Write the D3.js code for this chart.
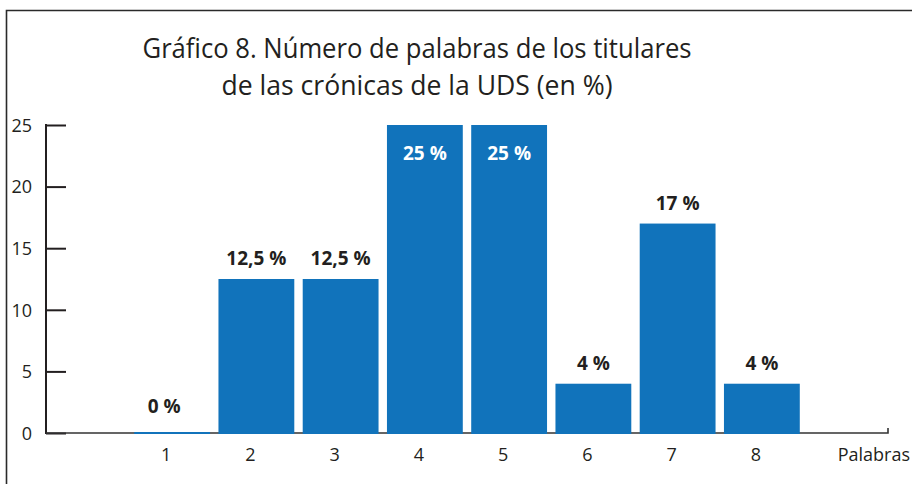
<!DOCTYPE html>
<html><head><meta charset="utf-8">
<script src="https://cdn.jsdelivr.net/npm/d3@7"></script>
<style>body{margin:0;background:#fff}svg{display:block}</style>
</head><body>
<script>
const categories = ["1","2","3","4","5","6","7","8"];
const values = [0, 12.5, 12.5, 25, 25, 4, 17, 4];
const valueLabels = ["0 %","12,5 %","12,5 %","25 %","25 %","4 %","17 %","4 %"];
const yTicks = [0, 5, 10, 15, 20, 25];
const titleLines = ["Gráfico 8. Número de palabras de los titulares", "de las crónicas de la UDS (en %)"];
const xAxisTitle = "Palabras";

const W = 912, H = 484;
const svg = d3.select("body").append("svg").attr("width", W).attr("height", H);
const ink = "#231f20", blue = "#1173bb";
const font = "'Open Sans', 'Noto Sans', sans-serif";

// frame
svg.append("path").attr("d", `M6.5,${H} V10.5 H${W}`).attr("fill","none").attr("stroke","#2a2a2a").attr("stroke-width",1.6);

// title
const titleW = [549, 391];
titleLines.forEach((t,i)=>{
  svg.append("text").attr("x", 417).attr("y", 58 + i*37).attr("text-anchor","middle")
    .attr("font-family", font).attr("font-size", 28).attr("fill", ink)
    .attr("textLength", titleW[i]).attr("lengthAdjust","spacingAndGlyphs").text(t);
});

const x = d3.scaleBand().domain(categories).range([130, 804]).paddingInner(0.1).paddingOuter(0.05);
const y = d3.scaleLinear().domain([0, 25]).range([433, 125]);

// y axis
const yAxis = svg.append("g").attr("transform","translate(46,0)")
  .call(d3.axisRight(y).tickValues(yTicks).tickSize(20).tickFormat(d3.format("d")));
yAxis.select(".domain").remove();
yAxis.selectAll(".tick line").attr("stroke", ink).attr("stroke-width", 2);
yAxis.selectAll(".tick text").attr("x", -14).attr("text-anchor","end").attr("dy","0.35em")
  .attr("font-family", font).attr("font-size", 18).attr("fill", ink);
svg.append("line").attr("x1",46).attr("x2",46).attr("y1",y(25)-1).attr("y2",y(0)+1).attr("stroke",ink).attr("stroke-width",2);

// x axis line
svg.append("path").attr("d", `M46,${y(0)} H888 V${y(0)-5}`).attr("fill","none").attr("stroke","#333").attr("stroke-width",1.6);

// bars
svg.selectAll("rect.bar").data(values).join("rect").attr("class","bar")
  .attr("x",(d,i)=>x(categories[i])).attr("width",x.bandwidth())
  .attr("y",d=>Math.min(y(d), y(0)-1)).attr("height",d=>Math.max(y(0)-y(d),1)+1)
  .attr("fill", blue);

// value labels
svg.selectAll("text.val").data(values).join("text").attr("class","val")
  .attr("x",(d,i)=>x(categories[i])+x.bandwidth()/2 - (i===0?8:0))
  .attr("y",d=> d>=20 ? y(d)+35 : y(d)-(d===0?20:14))
  .attr("text-anchor","middle").attr("font-family", font).attr("font-weight",700)
  .attr("font-size",19).attr("fill",d=> d>=20 ? "#fff" : ink)
  .text((d,i)=>valueLabels[i]);

// x tick labels
svg.selectAll("text.cat").data(categories).join("text").attr("class","cat")
  .attr("x",d=>x(d)+x.bandwidth()/2 - 6).attr("y",461)
  .attr("text-anchor","middle").attr("font-family", font).attr("font-size",18).attr("fill",ink)
  .text(d=>d);

svg.append("text").attr("x",910).attr("y",461).attr("text-anchor","end")
  .attr("font-family", font).attr("font-size",18).attr("fill",ink).text(xAxisTitle);
</script>
</body></html>
